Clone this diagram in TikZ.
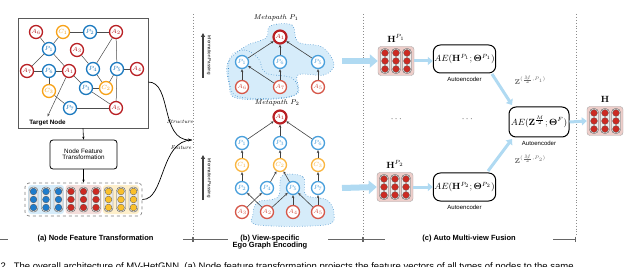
\documentclass[tikz,border=0pt]{standalone}
\usepackage[no-math]{fontspec}
\usepackage{amsmath}
\usepackage{xcolor}
\usepackage{tikz}
\usetikzlibrary{arrows.meta, positioning}
\newfontfamily\hv{Liberation Sans}
\definecolor{nodered}{RGB}{185,32,36}
\definecolor{nodeblue}{RGB}{28,122,192}
\definecolor{nodeorange}{RGB}{248,162,24}
\definecolor{lred}{RGB}{214,88,74}
\definecolor{lblue}{RGB}{74,160,220}
\definecolor{lorange}{RGB}{250,182,64}
\definecolor{blobfill}{RGB}{214,236,250}
\definecolor{blobline}{RGB}{60,138,200}
\definecolor{arrowblue}{RGB}{176,218,242}
\definecolor{pinkbg}{RGB}{238,206,202}
\definecolor{embred}{RGB}{204,42,34}
\definecolor{embblue}{RGB}{30,124,204}
\definecolor{embyellow}{RGB}{250,192,44}
\newcommand{\fsz}[1]{\fontsize{#1}{#1}\selectfont}
% one column of an embedding: x, y, colour
\newcommand{\embcol}[3]{%
  \node[pill] at (#1,#2) {};
  \foreach \dy in {-8,0,8} \node[dot, fill=#3] at (#1,#2+\dy) {};}

\begin{document}
\begin{tikzpicture}[x=1pt, y=-1pt,
      vx/.style={circle, fill=white, line width=1.3pt, minimum size=13pt,
                 inner sep=0pt, font=\fsz{6}},
      av/.style={vx, draw=nodered, text=nodered},
      pv/.style={vx, draw=nodeblue, text=nodeblue},
      cv/.style={vx, draw=nodeorange, text=nodeorange},
      lav/.style={vx, draw=lred, text=lred},
      lpv/.style={vx, draw=lblue, text=lblue},
      lcv/.style={vx, draw=lorange, text=lorange},
      root/.style={vx, draw=nodered, text=nodered, line width=2.2pt},
      lnk/.style={draw=black!70, line width=0.5pt},
      up/.style={-{Stealth[length=3pt,width=2.6pt]}, draw=black!75, line width=0.6pt},
      pill/.style={rectangle, rounded corners=4pt, draw=black!65, fill=white!85!gray,
                   minimum width=9pt, minimum height=25pt, inner sep=0pt},
      dot/.style={circle, draw=black!65, line width=0.3pt, minimum size=6.8pt, inner sep=0pt},
      grp/.style={rectangle, rounded corners=3pt, minimum width=36pt, minimum height=29pt},
      blk/.style={rectangle, rounded corners=3pt, draw=black!35, fill=pinkbg,
                  minimum width=36pt, minimum height=29pt},
      aebox/.style={rectangle, rounded corners=7pt, draw, line width=1pt,
                    minimum width=61pt, minimum height=28pt, inner sep=1pt, font=\fsz{9}},
      fat/.style={draw=arrowblue, line width=3pt, -{Triangle[length=5pt,width=8pt]}},
      big/.style={draw=arrowblue, line width=6pt, -{Triangle[length=8pt,width=13pt]}},
      note/.style={font=\hv\fsz{6}},
      zlab/.style={font=\fsz{7}, text=black!60, anchor=west},
      sec/.style={font=\hv\bfseries\fsz{7.5}, align=center},
      sepline/.style={draw=black!45, dotted, line width=0.9pt},
      rule/.style={draw=black!60, line width=0.6pt},
      blob/.style={fill=blobfill, draw=blobline, dotted, line width=0.6pt}]
  \useasboundingbox (0,0) rectangle (640,267);
  \clip (0,0) rectangle (640,267);

  % (a) heterogeneous graph
  \node[draw=black!65, line width=0.6pt, minimum width=130pt, minimum height=110pt]
        (gbox) at (83,73) {};
  \node[av] (a6) at (36,32) {$A_6$};
  \node[cv] (c1) at (63,32) {$C_1$};
  \node[pv] (p2) at (90,32) {$P_2$};
  \node[av] (a2) at (116,32) {$A_2$};
  \node[pv] (p1) at (49,49) {$P_1$};
  \node[av] (a3) at (77,50) {$A_3$};
  \node[av] (a7) at (27,71) {$A_7$};
  \node[pv] (p6) at (49,71) {$P_6$};
  \node[av] (a1) at (69,71) {$A_1$};
  \node[pv] (p4) at (93,69) {$P_4$};
  \node[pv] (p5) at (117,69) {$P_5$};
  \node[av] (a4) at (137,69) {$A_4$};
  \node[cv] (c3) at (49,91) {$C_3$};
  \node[pv] (p3) at (86,88) {$P_3$};
  \node[cv] (c2) at (106,88) {$C_2$};
  \node[pv] (p7) at (70,108) {$P_7$};
  \node[av] (a5) at (116,108) {$A_5$};
  \foreach \u/\v in {a6/p1, c1/p1, c1/p2, p2/a2, a2/p4, a2/p5, a3/p4, p1/a7, p1/a1,
                     a7/p6, p6/a1, p6/c3, a1/p3, p4/c2, p5/c2, p5/a4, p5/a5, p3/c2,
                     p3/a5, c3/p7, p7/a5}
    \draw[lnk] (\u) -- (\v);
  \node[font=\hv\bfseries\fsz{6.3}] (tgt) at (47.5,123) {Target Node};
  \draw[-{Stealth[length=3pt]}, lnk] (a1) -- (tgt.north);

  % (a) feature transformation
  \node[draw, rounded corners=3pt, line width=0.8pt, minimum width=67pt, minimum height=29pt,
        align=center, font=\hv\fsz{6.3}] (nft) at (83.5,154.5) {Node Feature\\Transformation};
  \draw[-{Stealth[length=3pt]}, line width=0.6pt] (gbox.south) -- (nft.north);
  \node[draw=black!50, dashed, rounded corners=4pt, line width=0.7pt,
        minimum width=117pt, minimum height=33pt] (emb) at (83.5,199.5) {};
  \draw[-{Stealth[length=3pt]}, line width=0.6pt] (nft.south) -- (emb.north);
  \node[grp, fill=blobfill] at (46,199.5) {};
  \node[grp, fill=pinkbg!70] at (83.5,199.5) {};
  \node[grp, fill=embyellow!25] at (121,199.5) {};
  \foreach \x in {33.5,46,58.5} \embcol{\x}{199.5}{embblue};
  \foreach \x in {71,83.5,96} \embcol{\x}{199.5}{embred};
  \foreach \x in {108.5,121,133.5} \embcol{\x}{199.5}{embyellow};

  % structure and feature into (b)
  \coordinate (join) at (192,140);
  \draw[-{Stealth[length=4pt]}, line width=0.7pt]
    ([yshift=-9pt]gbox.east) .. controls (172,82) and (160,140) .. (join);
  \draw[line width=0.7pt] (emb.east) .. controls (165,200) and (160,140) .. (join);
  \node[font=\itshape\fsz{5.5}] at (180,122) {Structure};
  \node[font=\itshape\fsz{5.5}] at (181,148) {Feature};

  % separators
  \draw[sepline] (193,14) -- (193,236);
  \draw[sepline] (363,14) -- (363,236);
  \draw[sepline] (576,14) -- (576,236);

  % (b) metapath P1
  \node[font=\fsz{7}] at (276,18) {\textit{Metapath} $P_1$};
  \draw[blob] plot[smooth cycle, tension=0.6] coordinates {(270,26) (292,25) (298,42) (322,47)
    (334,64) (324,75) (298,75) (298,93) (276,99) (236,98) (229,84) (228,62) (246,46) (266,38)};
  \draw[blobline, dotted, line width=0.6pt] plot[smooth cycle, tension=0.6] coordinates {
    (230,58) (244,50) (258,58) (266,73) (292,78) (297,93) (278,98) (240,97) (230,86)};
  \node[root] (ta1) at (280,37) {$A_1$};
  \node[lpv] (tp1) at (242,62) {$P_1$};
  \node[lpv] (tp6) at (280,62) {$P_6$};
  \node[lpv] (tp5) at (318,62) {$P_5$};
  \node[lav] (ta6) at (242,87) {$A_6$};
  \node[lav] (ta7) at (280,87) {$A_7$};
  \node[lav] (ta5) at (318,87) {$A_5$};
  \foreach \u/\v in {tp1/ta1, tp6/ta1, tp5/ta1, ta6/tp1, ta7/tp1, ta7/tp6, ta5/tp5}
    \draw[up] (\u) -- (\v);

  % (b) metapath P2
  \node[font=\fsz{7}] at (277,103) {\textit{Metapath} $P_2$};
  \draw[blob] plot[smooth cycle, tension=0.6] coordinates {(282,176) (303,177) (306,195)
    (327,200) (334,214) (325,225) (258,225) (253,214) (258,202) (278,197)};
  \node[root] (ba1) at (280,117) {$A_1$};
  \node[lpv] (bp1) at (242,143) {$P_1$};
  \node[lpv] (bp3) at (280,143) {$P_3$};
  \node[lpv] (bp6) at (318,143) {$P_6$};
  \node[lcv] (bc1) at (242,165) {$C_1$};
  \node[lcv] (bc2) at (280,165) {$C_2$};
  \node[lcv] (bc3) at (318,165) {$C_3$};
  \node[lpv] (bp2) at (242,188) {$P_2$};
  \node[lpv] (bp4) at (267,188) {$P_4$};
  \node[lpv] (bp5) at (293,188) {$P_5$};
  \node[lpv] (bp7) at (318,188) {$P_7$};
  \node[lav] (ba3) at (242,212) {$A_3$};
  \node[lav] (ba2) at (267,212) {$A_2$};
  \node[lav] (ba4) at (293,212) {$A_4$};
  \node[lav] (ba5) at (318,212) {$A_5$};
  \foreach \u/\v in {bp1/ba1, bp3/ba1, bp6/ba1, bc1/bp1, bc2/bp3, bc3/bp6, bp2/bc1,
                     bp4/bc2, bp5/bc2, bp7/bc3, ba3/bp4, ba2/bp2, ba2/bp5, ba4/bp5,
                     ba5/bp5, ba5/bp7}
    \draw[up] (\u) -- (\v);

  % information passing
  \coordinate (ip1s) at (203,78); \coordinate (ip1e) at (203,33);
  \coordinate (ip2s) at (203,200); \coordinate (ip2e) at (203,155);
  \draw[-{Triangle[length=4pt,width=4pt]}, line width=1.6pt, black!75] (ip1s) -- (ip1e);
  \draw[-{Triangle[length=4pt,width=4pt]}, line width=1.6pt, black!75] (ip2s) -- (ip2e);
  \node[rotate=-90, font=\hv\fsz{4.5}] at (209,55) {Information Passing};
  \node[rotate=-90, font=\hv\fsz{4.5}] at (209,178) {Information Passing};

  % (c) view P1
  \coordinate (in1) at (342,61); \coordinate (in2) at (342,188);
  \node[blk] (hp1) at (396,61) {};
  \foreach \x in {385,396,407} \embcol{\x}{61}{embred};
  \node[font=\fsz{9}, above=0pt of hp1] {$\mathbf{H}^{P_1}$};
  \draw[big] (in1) -- (hp1.west);
  \node[aebox] (ae1) at (464.5,59) {$AE(\mathbf{H}^{P_1};\mathbf{\Theta}^{P_1})$};
  \node[note, below=0.5pt of ae1] {Autoencoder};
  \draw[fat] (hp1.east) -- (ae1.west |- hp1.east);

  % (c) view P2
  \node[blk] (hp2) at (395,187) {};
  \foreach \x in {384,395,406} \embcol{\x}{187}{embred};
  \node[font=\fsz{9}, above=0pt of hp2] {$\mathbf{H}^{P_2}$};
  \draw[big] (in2) -- (hp2.west);
  \node[aebox] (ae2) at (464.5,187) {$AE(\mathbf{H}^{P_2};\mathbf{\Theta}^{P_2})$};
  \node[note, below=0.5pt of ae2] {Autoencoder};
  \draw[fat] (hp2.east) -- (ae2.west |- hp2.east);

  \node[font=\fsz{9}] at (397,119) {$\cdots$};
  \node[font=\fsz{9}] at (468,119) {$\cdots$};

  % (c) fusion
  \node[aebox, minimum width=60pt, minimum height=30pt] (aef) at (539,122)
        {$AE(\mathbf{Z}^{\frac{M}{2}};\mathbf{\Theta}^{F})$};
  \node[note, below=0.5pt of aef] {Autoencoder};
  \draw[fat] (492,74) -- (512,105);
  \draw[fat] (488,171) -- (512,139);
  \node[zlab] at (511,80) {$\mathbf{Z}^{(\frac{M}{2},P_1)}$};
  \node[zlab] at (511,159) {$\mathbf{Z}^{(\frac{M}{2},P_2)}$};
  \node[blk] (hf) at (605,121) {};
  \foreach \x in {594,605,616} \embcol{\x}{121}{embred};
  \node[font=\fsz{9}, above=0pt of hf] {$\mathbf{H}$};
  \draw[fat] (aef.east) -- (hf.west);

  % section titles
  \node[sec] (ta) at (95.5,239) {(a) Node Feature Transformation};
  \node[sec, inner sep=1pt] (tb) at (270,242) {(b) View-specific\\Ego Graph Encoding};
  \node[sec] (tc) at (469,239) {(c) Auto Multi-view Fusion};
  \draw[rule] (0,239) -- (8,239);
  \draw[rule, -{Bar[width=5pt]}] (183,239) -- (193,239);
  \draw[rule, {Bar[width=5pt]}-] (193,239) -- (228,239);
  \draw[rule, -{Bar[width=5pt]}] (328,239) -- (363,239);
  \draw[rule, {Bar[width=5pt]}-] (363,239) -- (385,239);
  \draw[rule, -{Bar[width=5pt]}] (553,239) -- (576,239);

  % caption, cut by the page edge
  \node[font=\hv\fsz{9.5}, anchor=base west, inner sep=0pt] (cap) at (0.5,269)
    {2.\ \ The overall architecture of MV-HetGNN. (a) Node feature transformation projects the feature vectors of all types of nodes to the same};
\end{tikzpicture}
\end{document}
